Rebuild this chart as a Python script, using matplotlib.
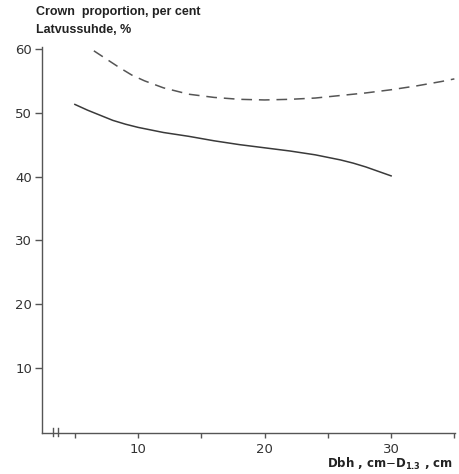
import matplotlib
matplotlib.use("Agg")
import matplotlib.pyplot as plt

# Data
solid_x = [5, 6, 7, 8, 9, 10, 11, 12, 13, 14, 16, 18, 20, 22, 24, 26, 27, 28, 29, 30]
solid_y = [51.3, 50.4, 49.6, 48.8, 48.2, 47.7, 47.3, 46.9, 46.6, 46.3, 45.6, 45.0, 44.5, 44.0, 43.4, 42.6, 42.1, 41.5, 40.8, 40.1]
dash_x = [6.5, 7.5, 8.5, 9.5, 10.5, 12, 14, 16, 18, 20, 22, 24, 26, 28, 30, 32, 34, 35]
dash_y = [59.7, 58.4, 57.1, 55.9, 55.0, 53.9, 52.9, 52.4, 52.1, 52.0, 52.1, 52.3, 52.7, 53.1, 53.6, 54.2, 54.9, 55.3]
yticks = [10, 20, 30, 40, 50, 60]
xticks = [5, 10, 15, 20, 25, 30, 35]
xticklabels = ["", "10", "", "20", "", "30", ""]

fig = plt.figure(figsize=(4.59, 4.74), dpi=100)
ax = fig.add_axes([42/459, 1-433/474, (455-42)/459, (433-47)/474])
col = "#3a3a3a"
ax.plot(solid_x, solid_y, color=col, lw=1.1)
ax.plot(dash_x, dash_y, color="#555555", lw=1.1, dashes=(7, 4.5))

ax.set_xlim(2.4, 35.05)
ax.set_ylim(-0.2, 60.3)
for s in ["top", "right"]:
    ax.spines[s].set_visible(False)
for s in ["left", "bottom"]:
    ax.spines[s].set_color("#555555")
    ax.spines[s].set_linewidth(1.0)
ax.set_yticks(yticks)
ax.set_yticklabels([str(v) for v in yticks])
ax.set_xticks(xticks)
ax.set_xticklabels(xticklabels)
ax.tick_params(axis="y", direction="out", length=5, width=1, color="#555555", labelsize=9.5, labelcolor="#333333", pad=2)
ax.tick_params(axis="x", direction="out", length=3.5, width=1, color="#555555", labelsize=9.5, labelcolor="#333333", pad=4)

# axis break marks
for bx in [3.3, 3.7]:
    ax.plot([bx, bx], [-0.6, 0.6], color="#555555", lw=1.0, clip_on=False)

tfont = ["Liberation Sans", "DejaVu Sans"]
fig.text(36/459, 1-12/474, "Crown  proportion, per cent", fontsize=9, fontweight="bold",
         family=tfont, color="#222222", va="center", ha="left")
fig.text(36/459, 1-30/474, "Latvussuhde, %", fontsize=9, fontweight="bold",
         family=tfont, color="#222222", va="center", ha="left")
fig.text(453/459, 1-464/474, r"Dbh , cm$-$D$_{\mathbf{1.3}}$ , cm", fontsize=8.5, fontweight="bold",
         color="#222222", va="center", ha="right")

fig.savefig("out.png", dpi=100)
